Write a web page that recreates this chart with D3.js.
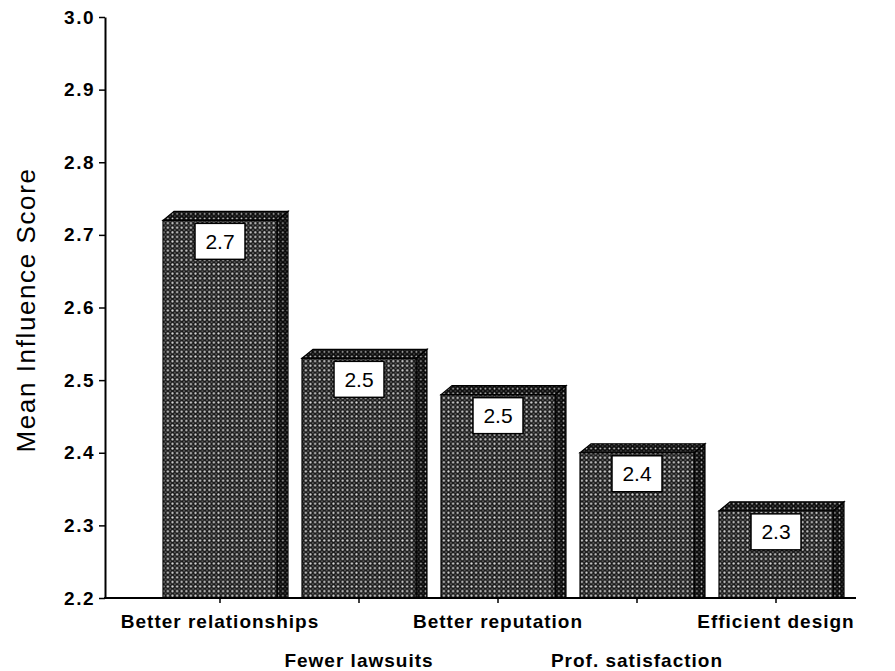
<!DOCTYPE html>
<html>
<head>
<meta charset="utf-8">
<script src="https://cdn.jsdelivr.net/npm/d3@7"></script>
<style>
  html, body { margin: 0; padding: 0; background: #fff; }
  svg { display: block; font-family: "Liberation Sans", Arial, sans-serif; }
</style>
</head>
<body>
<svg id="chart" width="895" height="671"></svg>
<script>
// Mean influence score per reason
const categories = ["Better relationships", "Fewer lawsuits", "Better reputation", "Prof. satisfaction", "Efficient design"];
const values = [2.72, 2.53, 2.48, 2.40, 2.32];
const yTicks = [2.2, 2.3, 2.4, 2.5, 2.6, 2.7, 2.8, 2.9, 3.0];
const yTitle = "Mean Influence Score";

const svg = d3.select("#chart");
const axisX = 105, baseY = 598, topY = 17, axisRight = 856;
const depthX = 11, depthY = 9;

const x = d3.scaleBand()
  .domain(categories)
  .range([150.5, 845.5])
  .paddingInner(0.18)
  .paddingOuter(0.09);

const y = d3.scaleLinear()
  .domain([2.2, 3.0])
  .range([baseY, topY]);

const fmt = d3.format(".1f");

// halftone fills for the bar faces
const defs = svg.append("defs");
function halftone(id, bg, dot, r, size) {
  const p = defs.append("pattern")
    .attr("id", id)
    .attr("patternUnits", "userSpaceOnUse")
    .attr("width", size).attr("height", size);
  p.append("rect").attr("width", size).attr("height", size).attr("fill", bg);
  p.append("circle").attr("cx", size / 2).attr("cy", size / 2).attr("r", r).attr("fill", dot);
  [[0, 0], [size, 0], [0, size], [size, size]].forEach(([cx, cy]) =>
    p.append("circle").attr("cx", cx).attr("cy", cy).attr("r", r * 0.7).attr("fill", dot).attr("opacity", 0.6));
}
halftone("front", "#1a1a1a", "#d8d8d8", 1.1, 4.6);
halftone("side", "#080808", "#bdbdbd", 0.9, 4.6);
halftone("topface", "#0c0c0c", "#cfcfcf", 0.9, 4.6);

// bars
const bars = svg.append("g").selectAll("g")
  .data(categories.map((c, i) => ({ c, v: values[i] })))
  .join("g");

bars.each(function (d) {
  const g = d3.select(this);
  const x0 = x(d.c), x1 = x0 + x.bandwidth();
  const yt = y(d.v);
  // side face
  g.append("path")
    .attr("d", `M${x1},${yt}L${x1 + depthX},${yt - depthY}L${x1 + depthX},${baseY}L${x1},${baseY}Z`)
    .attr("fill", "url(#side)").attr("stroke", "#000").attr("stroke-width", 1.2);
  // top face
  g.append("path")
    .attr("d", `M${x0},${yt}L${x0 + depthX},${yt - depthY}L${x1 + depthX},${yt - depthY}L${x1},${yt}Z`)
    .attr("fill", "url(#topface)").attr("stroke", "#000").attr("stroke-width", 1.2);
  // front face
  g.append("rect")
    .attr("x", x0).attr("y", yt)
    .attr("width", x.bandwidth()).attr("height", baseY - yt)
    .attr("fill", "url(#front)").attr("stroke", "#000").attr("stroke-width", 1.2);
  // value box
  const cx = x0 + x.bandwidth() / 2;
  g.append("rect")
    .attr("x", cx - 25).attr("y", yt + 3)
    .attr("width", 50).attr("height", 36)
    .attr("fill", "#fff").attr("stroke", "#000").attr("stroke-width", 1.5);
  g.append("text")
    .attr("x", cx).attr("y", yt + 21)
    .attr("text-anchor", "middle").attr("dominant-baseline", "central")
    .attr("font-size", 21).attr("fill", "#000")
    .text(fmt(d.v));
});

// y axis
const yAxis = svg.append("g")
  .attr("transform", `translate(${axisX},0)`)
  .call(d3.axisLeft(y).tickValues(yTicks).tickFormat(fmt).tickSize(6).tickSizeOuter(0));
yAxis.select(".domain").attr("stroke", "#000").attr("stroke-width", 2);
yAxis.selectAll(".tick line").attr("stroke", "#000").attr("stroke-width", 1.5);
yAxis.selectAll(".tick text")
  .attr("x", -10)
  .attr("font-size", 19).attr("font-weight", "bold")
  .attr("letter-spacing", 1.5)
  .attr("font-family", "'Liberation Sans', Arial, sans-serif")
  .attr("fill", "#000");

// x axis
const xAxis = svg.append("g")
  .attr("transform", `translate(0,${baseY})`)
  .call(d3.axisBottom(x).tickSize(5).tickSizeOuter(0));
xAxis.select(".domain").remove();
xAxis.selectAll(".tick line").attr("stroke", "#000").attr("stroke-width", 1.5);
xAxis.selectAll(".tick text")
  .attr("y", (d, i) => i % 2 === 0 ? 17 : 56)
  .attr("dy", "0.71em")
  .attr("font-size", 19).attr("font-weight", "bold")
  .attr("letter-spacing", 1)
  .attr("font-family", "'Liberation Sans', Arial, sans-serif")
  .attr("fill", "#000");
svg.append("line")
  .attr("x1", axisX - 1).attr("x2", axisRight)
  .attr("y1", baseY).attr("y2", baseY)
  .attr("stroke", "#000").attr("stroke-width", 2);

// y axis title
svg.append("text")
  .attr("transform", `translate(35,310) rotate(-90)`)
  .attr("text-anchor", "middle")
  .attr("font-size", 26)
  .attr("letter-spacing", 1.6)
  .attr("fill", "#000")
  .text(yTitle);
</script>
</body>
</html>
